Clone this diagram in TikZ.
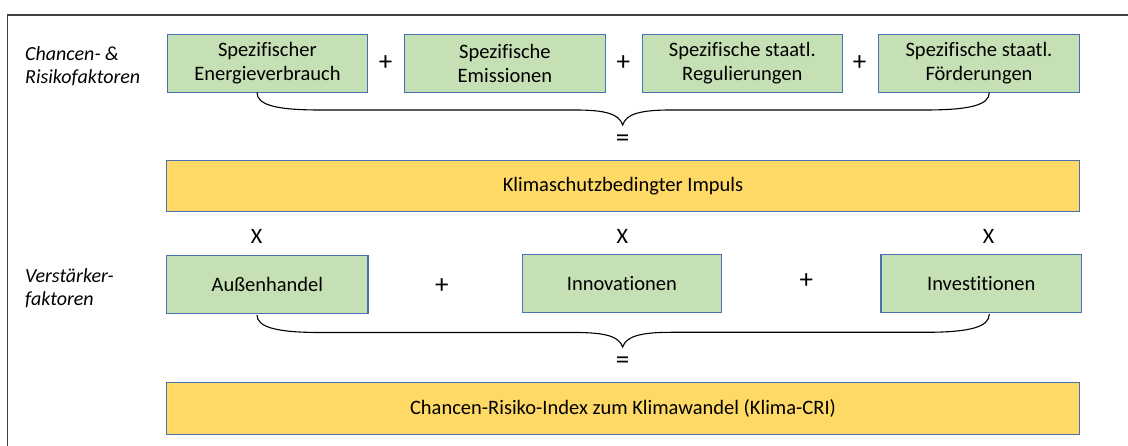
\documentclass[tikz,border=0pt]{standalone}
\usepackage{fontspec}
\setmainfont{Carlito}[Ligatures=NoCommon]
\definecolor{boxgreen}{HTML}{C5E0B4}
\definecolor{boxyellow}{HTML}{FFD966}
\definecolor{boxline}{HTML}{4A6FB0}
\definecolor{frameline}{HTML}{404040}
\begin{document}
\begin{tikzpicture}[x=1pt,y=-1pt,
  every node/.style={font=\fontsize{20.5}{23.5}\selectfont, inner sep=0pt},
  greenbox/.style={draw=boxline, line width=1.1pt, fill=boxgreen, align=center, minimum height=58pt, minimum width=200.5pt},
  yellowbox/.style={draw=boxline, line width=1.1pt, fill=boxyellow, align=center, minimum width=912.3pt},
  sidelabel/.style={align=left, anchor=west, font=\fontsize{20}{23.3}\selectfont\itshape},
  opsign/.style={font=\fontsize{27}{27}\selectfont},
  xsign/.style={font=\fontsize{22}{23}\selectfont},
  bracestyle/.style={line width=1.1pt, black}]
\useasboundingbox (0,0) rectangle (1128,446);
\fill[white] (0,0) rectangle (1128,446);
\draw[frameline, line width=1.2pt] (1140,15) -- (7.5,15) -- (7.5,460);

% side labels
\node[sidelabel] (lab1) at (25,66.5) {Chancen- \&\\Risikofaktoren};
\node[sidelabel] (lab2) at (25,288) {Verstärker-\\faktoren};

% top row
\node[greenbox] (b1) at (267.4,63.3) {Spezifischer\\Energieverbrauch};
\node[greenbox] (b2) at (504.9,63.3) {Spezifische\\Emissionen};
\node[greenbox] (b3) at (742.3,63.3) {Spezifische staatl.\\Regulierungen};
\node[greenbox] (b4) at (979.0,63.3) {Spezifische staatl.\\Förderungen};
\node[opsign] (p1) at (385.5,63.3) {+};
\node[opsign] (p2) at (623.4,63.3) {+};
\node[opsign] (p3) at (859.5,63.3) {+};

% brace 1
\coordinate (t1l) at (257,92.5);
\coordinate (t1m) at (622.7,125);
\coordinate (t1r) at (989.3,92.5);
\draw[bracestyle] (t1l) .. controls (257,105) and (276,110) .. (320,110) -- (575,110)
  .. controls (606,110) and (619,114) .. (t1m)
  .. controls (626,114) and (640,110) .. (671,110) -- (925,110)
  .. controls (970,110) and (989.3,105) .. (t1r);
\node[opsign] (eq1) at (622.7,140.7) {=};

\node[yellowbox, minimum height=51pt] (y1) at (623,186.3) {Klimaschutzbedingter Impuls};

% multipliers
\node[xsign] (x1) at (256.7,236) {X};
\node[xsign] (x2) at (622.3,236) {X};
\node[xsign] (x3) at (988.5,236) {X};

% second row
\node[greenbox, minimum width=201.1pt, minimum height=57.6pt] (c1) at (267.4,284.5) {Außenhandel};
\node[greenbox, minimum width=199.5pt] (c2) at (621.9,283.3) {Innovationen};
\node[greenbox, minimum width=200.6pt] (c3) at (981.3,283.3) {Investitionen};
\node[opsign] (p4) at (441.8,286.5) {+};
\node[opsign] (p5) at (806.3,281) {+};

% brace 2
\coordinate (t2l) at (257,315);
\coordinate (t2m) at (622.7,347);
\coordinate (t2r) at (989.3,314);
\draw[bracestyle] (t2l) .. controls (257,327) and (276,332.5) .. (320,332.5) -- (575,332.5)
  .. controls (606,332.5) and (619,336.5) .. (t2m)
  .. controls (626,336.5) and (640,332.3) .. (671,332.3) -- (925,332.3)
  .. controls (970,332.3) and (989.3,327) .. (t2r);
\node[opsign] (eq2) at (622.7,362.5) {=};

\node[yellowbox, minimum height=52.3pt] (y2) at (623,408.8) {Chancen-Risiko-Index zum Klimawandel (Klima-CRI)};
\end{tikzpicture}
\end{document}
